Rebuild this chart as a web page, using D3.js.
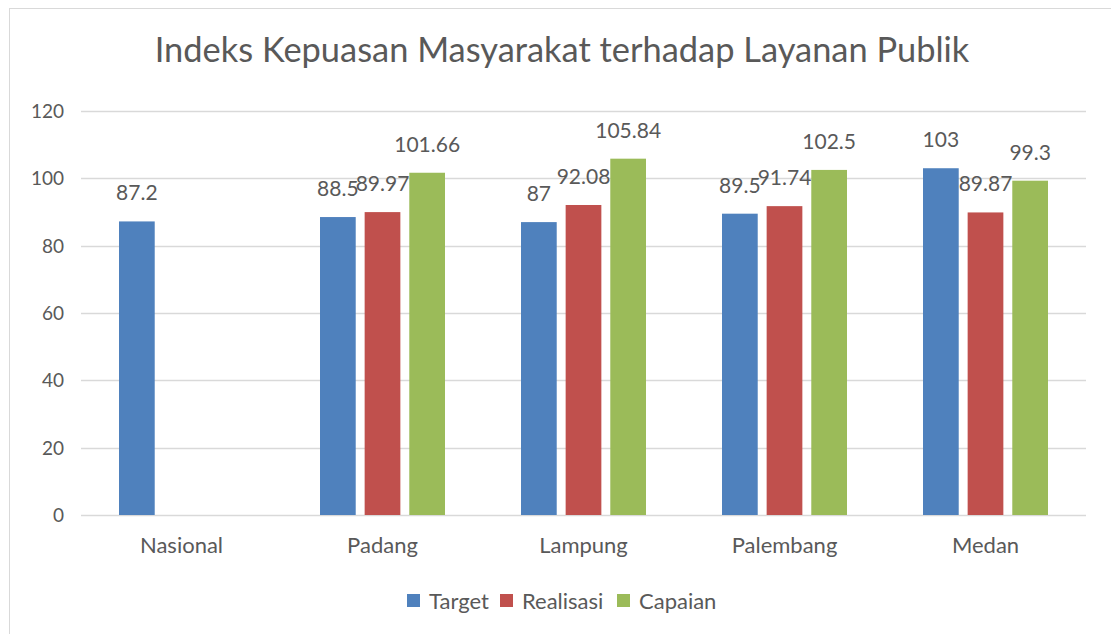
<html>
<head>
<script src="https://d3js.org/d3.v7.min.js"></script>
<style>
  body { margin: 0; background: #fff; }
  text { font-family: Lato, "Open Sans", sans-serif; fill: #595959; }
</style>
</head>
<body>
<svg width="1111" height="634"></svg>
<script>
// chart data
const categories = ["Nasional", "Padang", "Lampung", "Palembang", "Medan"];
const seriesNames = ["Target", "Realisasi", "Capaian"];
const target = [87.2, 88.5, 87, 89.5, 103];
const realisasi = [null, 89.97, 92.08, 91.74, 89.87];
const capaian = [null, 101.66, 105.84, 102.5, 99.3];
const yTicks = [0, 20, 40, 60, 80, 100, 120];
const colors = ["#4F81BD", "#C0504D", "#9BBB59"];

const allSeries = [target, realisasi, capaian];

var svg = d3.select("svg");

// chart border
svg.append("rect")
  .attr("x", 9.5).attr("y", 8.5)
  .attr("width", 1120).attr("height", 640)
  .attr("fill", "none").attr("stroke", "#d9d9d9");

var plotL = 81, plotR = 1086, plotT = 111, plotB = 515;

var x0 = d3.scaleBand().domain(categories).range([plotL, plotR]).padding(0);
var x1 = d3.scaleBand().domain(seriesNames).range([-62.5, 62.5]).paddingInner(0.2).paddingOuter(0);
var y = d3.scaleLinear().domain([0, 120]).range([plotB, plotT]);

// gridlines
svg.append("g").selectAll("line").data(yTicks).enter().append("line")
  .attr("x1", plotL).attr("x2", plotR)
  .attr("y1", d => Math.round(y(d)) + 0.5).attr("y2", d => Math.round(y(d)) + 0.5)
  .attr("stroke", "#d9d9d9").attr("stroke-width", 1.3);

// y axis labels
svg.append("g").selectAll("text").data(yTicks).enter().append("text")
  .attr("x", 64).attr("y", d => y(d) + 7)
  .attr("text-anchor", "end")
  .style("font-size", "19px")
  .text(d => d);

// bars
var groups = svg.append("g").selectAll("g").data(categories).enter().append("g")
  .attr("transform", d => "translate(" + (x0(d) + x0.bandwidth() / 2) + ",0)");

function cells(c, i) {
  return seriesNames.map((s, j) => ({ s: s, v: allSeries[j][i], j: j })).filter(d => d.v != null);
}

groups.selectAll("rect")
  .data(cells)
  .enter().append("rect")
  .attr("x", d => x1(d.s))
  .attr("width", x1.bandwidth())
  .attr("y", d => y(d.v))
  .attr("height", d => y(0) - y(d.v))
  .attr("fill", d => colors[d.j]);

groups.selectAll("text.lbl")
  .data(cells)
  .enter().append("text")
  .attr("class", "lbl")
  .attr("x", d => x1(d.s) + x1.bandwidth() / 2)
  .attr("y", d => y(d.v) - 21)
  .attr("text-anchor", "middle")
  .style("font-size", "21px")
  .text(d => d.v);

// category labels
svg.append("g").selectAll("text").data(categories).enter().append("text")
  .attr("x", d => x0(d) + x0.bandwidth() / 2)
  .attr("y", 553)
  .attr("text-anchor", "middle")
  .style("font-size", "22px")
  .text(d => d);

// title
var title = svg.append("text")
  .attr("x", 562).attr("y", 62)
  .attr("text-anchor", "middle")
  .style("font-size", "31px")
  .text("Indeks Kepuasan Masyarakat terhadap Layanan Publik");
var tw = title.node().getComputedTextLength();
title.style("font-size", (31 * 815 / tw) + "px");

// legend
var legendX = [407, 500, 617];
var leg = svg.append("g").selectAll("g").data(seriesNames).enter().append("g")
  .attr("transform", (d, i) => "translate(" + legendX[i] + ",594)");
leg.append("rect").attr("width", 13).attr("height", 13).attr("fill", (d, i) => colors[i]);
leg.append("text").attr("x", 22).attr("y", 15).style("font-size", "22px").text(d => d);
</script>
</body>
</html>
